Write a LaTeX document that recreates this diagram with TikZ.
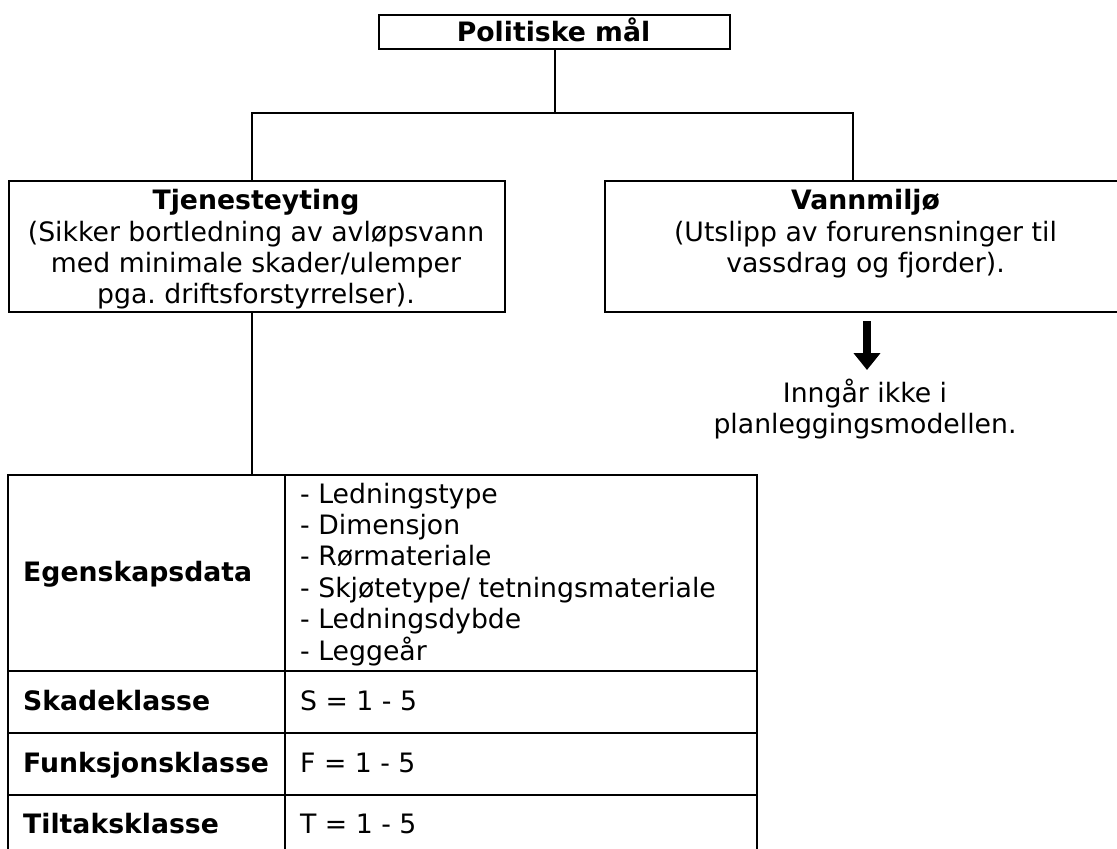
\documentclass[tikz,border=0pt]{standalone}
\usepackage{fontspec}
\setmainfont{DejaVu Sans}
\usetikzlibrary{arrows.meta}
\frenchspacing
\begin{document}
\begin{tikzpicture}[x=1pt,y=-1pt,
  box/.style={draw,line width=2.2pt,inner sep=0pt,anchor=north west},
  conn/.style={line width=2.2pt},
  txt/.style={inner sep=0pt,anchor=base,font=\fontsize{26.7}{31}\selectfont},
  btxt/.style={txt,font=\fontsize{26.7}{31}\selectfont\bfseries},
  ltxt/.style={txt,anchor=base west},
  lbtxt/.style={btxt,anchor=base west}]
\useasboundingbox (0,0) rectangle (1117,849);
% boxes
\node[box,minimum width=351pt,minimum height=34pt] (pol) at (378,14) {};
\node[box,minimum width=496pt,minimum height=131pt] (tj) at (8,180) {};
\node[box,minimum width=523pt,minimum height=131pt] (vm) at (604,180) {};
% table cells
\node[box,minimum width=277pt,minimum height=196pt] (eg) at (7,474) {};
\node[box,minimum width=472pt,minimum height=196pt] (egv) at (284,474) {};
\node[box,minimum width=277pt,minimum height=62pt] (sk) at (7,670) {};
\node[box,minimum width=472pt,minimum height=62pt] (skv) at (284,670) {};
\node[box,minimum width=277pt,minimum height=62pt] (fk) at (7,732) {};
\node[box,minimum width=472pt,minimum height=62pt] (fkv) at (284,732) {};
\node[box,minimum width=277pt,minimum height=62pt] (tk) at (7,794) {};
\node[box,minimum width=472pt,minimum height=62pt] (tkv) at (284,794) {};
% connectors
\coordinate (hl) at (252,113);
\coordinate (hr) at (853,113);
\draw[conn] (pol.south) -- (pol.south |- hl);
\draw[conn] (hl |- tj.north) -- (hl) -- (hr) -- (hr |- vm.north);
\draw[conn] (hl |- tj.south) -- (hl |- eg.north);
\coordinate (a1) at (867,321);
\coordinate (a2) at (867,370);
\draw[line width=7.5pt,-{Triangle[width=26pt,length=17pt]}] (a1) -- (a2);
% texts
\node[btxt] (tpol) at (553.5,41.5) {Politiske mål};
\node[btxt] (ttj1) at (256,209.5) {Tjenesteyting};
\node[txt] (ttj2) at (256,241) {(Sikker bortledning av avløpsvann};
\node[txt] (ttj3) at (256,272) {med minimale skader/ulemper};
\node[txt] (ttj4) at (256,303) {pga. driftsforstyrrelser).};
\node[btxt] (tvm1) at (865.5,209.5) {Vannmiljø};
\node[txt] (tvm2) at (865.5,241) {(Utslipp av forurensninger til};
\node[txt] (tvm3) at (865.5,272) {vassdrag og fjorder).};
\node[txt] (ti1) at (865,402) {Inngår ikke i};
\node[txt] (ti2) at (865,433) {planleggingsmodellen.};
\node[lbtxt] (teg) at (23,581) {Egenskapsdata};
\node[lbtxt] (tsk) at (23,710) {Skadeklasse};
\node[lbtxt] (tfk) at (23,772) {Funksjonsklasse};
\node[lbtxt] (ttk) at (23,833) {Tiltaksklasse};
\node[ltxt] (l1) at (300,503) {- Ledningstype};
\node[ltxt] (l2) at (300,534.4) {- Dimensjon};
\node[ltxt] (l3) at (300,565.8) {- Rørmateriale};
\node[ltxt] (l4) at (300,597.2) {- Skjøtetype/ tetningsmateriale};
\node[ltxt] (l5) at (300,628.6) {- Ledningsdybde};
\node[ltxt] (l6) at (300,660) {- Leggeår};
\node[ltxt] (vsk) at (300,710) {S = 1 - 5};
\node[ltxt] (vfk) at (300,772) {F = 1 - 5};
\node[ltxt] (vtk) at (300,833) {T = 1 - 5};
\end{tikzpicture}
\end{document}
